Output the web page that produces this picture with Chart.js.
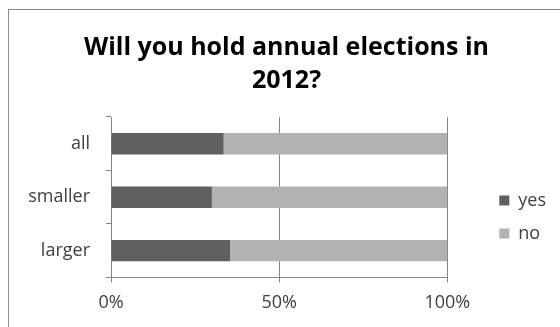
<!DOCTYPE html>
<html lang="en">
<head>
  <meta charset="UTF-8">
  <title>Will you hold annual elections in 2012?</title>
  <script src="https://cdn.jsdelivr.net/npm/chart.js"></script>
  <style>
    html, body { margin: 0; padding: 0; background: #fff; }
    .frame { position: absolute; left: 8px; top: 9px; width: 600px; height: 400px;
             border-left: 1px solid #8c8c8c; border-top: 1px solid #8c8c8c; }
    .wrap { position: absolute; left: 0; top: 0; width: 560px; height: 327px; }
  </style>
</head>
<body>
  <div class="frame"></div>
  <div class="wrap"><canvas id="chart" width="560" height="327"></canvas></div>

  <script>
    const categories = ['all', 'smaller', 'larger'];
    const yesValues = [33.5, 30.0, 35.4];
    const noValues = [66.5, 70.0, 64.6];
    const titleLines = ['Will you hold annual elections in', '2012?'];

    const font = "'Open Sans', sans-serif";
    const axisColor = '#868686';

    // nudge title and legend to where the original chart had them
    const nudgeBoxes = {
      id: 'nudgeBoxes',
      afterLayout(chart) {
        const lg = chart.legend;
        if (lg) { lg.left += 37; lg.right += 37; lg.top += 55; lg.bottom += 55; }
        const t = chart.titleBlock;
        if (t) { t.left += 22; t.right += 22; }
      }
    };

    new Chart(document.getElementById('chart'), {
      type: 'bar',
      data: {
        labels: categories,
        datasets: [
          { label: 'yes', data: yesValues, backgroundColor: '#606060' },
          { label: 'no', data: noValues, backgroundColor: '#b2b2b2' }
        ]
      },
      options: {
        indexAxis: 'y',
        responsive: false,
        animation: false,
        barPercentage: 0.4,
        categoryPercentage: 1,
        layout: { padding: { left: 10, right: 41, top: 0, bottom: 3 } },
        plugins: {
          title: {
            display: true,
            text: titleLines,
            color: '#000',
            font: { family: font, size: 25, weight: 'bold', lineHeight: 1.32 },
            padding: { top: 31, bottom: 20 }
          },
          legend: {
            position: 'right',
            labels: {
              boxWidth: 10, boxHeight: 10, padding: 15,
              color: '#404040',
              font: { family: font, size: 18 }
            }
          },
          tooltip: { enabled: false }
        },
        scales: {
          x: {
            stacked: true,
            min: 0, max: 100,
            ticks: {
              stepSize: 50, color: '#404040', padding: 10,
              font: { family: font, size: 18 },
              callback: v => v + '%'
            },
            grid: { color: axisColor, tickLength: 5 },
            border: { color: axisColor }
          },
          y: {
            stacked: true,
            afterFit: s => { s.width = 101; },
            ticks: { color: '#404040', padding: 16, font: { family: font, size: 18 } },
            grid: { offset: true, drawOnChartArea: false, color: axisColor, tickLength: 5 },
            border: { color: axisColor }
          }
        }
      },
      plugins: [nudgeBoxes]
    });
  </script>
</body>
</html>
